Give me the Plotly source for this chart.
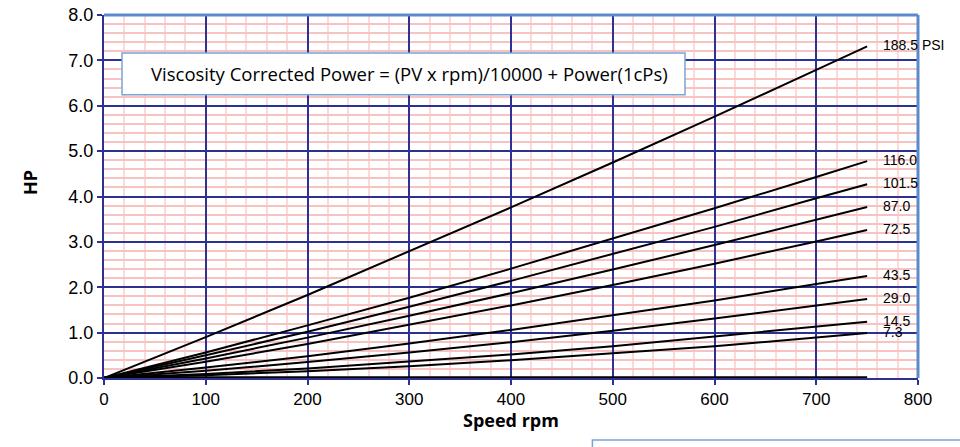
import plotly.graph_objects as go

# rpm points
rpm = [0, 100, 200, 300, 400, 500, 600, 700, 750]

# HP at each rpm, one list per pressure (PSI)
hp_188_5 = [0, 0.90, 1.83, 2.79, 3.76, 4.75, 5.76, 6.79, 7.31]
hp_116_0 = [0, 0.56, 1.16, 1.77, 2.41, 3.07, 3.74, 4.43, 4.78]
hp_101_5 = [0, 0.50, 1.02, 1.57, 2.14, 2.73, 3.33, 3.96, 4.27]
hp_87_0 = [0, 0.43, 0.89, 1.37, 1.87, 2.39, 2.93, 3.48, 3.77]
hp_72_5 = [0, 0.36, 0.75, 1.17, 1.60, 2.05, 2.52, 3.01, 3.26]
hp_43_5 = [0, 0.23, 0.48, 0.76, 1.06, 1.38, 1.71, 2.07, 2.25]
hp_29_0 = [0, 0.16, 0.35, 0.56, 0.79, 1.04, 1.31, 1.59, 1.74]
hp_14_5 = [0, 0.09, 0.21, 0.36, 0.52, 0.70, 0.91, 1.12, 1.24]
hp_7_3 = [0, 0.06, 0.15, 0.26, 0.39, 0.54, 0.70, 0.89, 0.99]
hp_0 = [0, 0, 0, 0, 0, 0, 0, 0, 0]

series = [hp_188_5, hp_116_0, hp_101_5, hp_87_0, hp_72_5,
          hp_43_5, hp_29_0, hp_14_5, hp_7_3]
labels = ["188.5 PSI", "116.0", "101.5", "87.0", "72.5",
          "43.5", "29.0", "14.5", "7.3"]

NAVY = "#2E3192"
LIGHT_BLUE = "#5B8BCB"
PINK_H = "#F9C2C2"
PINK_V = "#FCDADA"

fig = go.Figure()

fig.add_trace(go.Scatter(x=rpm, y=hp_0, mode="lines",
                         line=dict(color="black", width=3.5),
                         showlegend=False, hoverinfo="skip"))

for ys, lab in zip(series, labels):
    fig.add_trace(go.Scatter(x=rpm, y=ys, mode="lines", name=lab,
                             line=dict(color="black", width=2),
                             showlegend=False))
    # label at the end of each curve
    fig.add_annotation(x=rpm[-1], y=ys[-1], text=lab, showarrow=False,
                       xanchor="left", xshift=14, yshift=1,
                       font=dict(size=14, color="black"))

# text box
fig.add_shape(type="rect", x0=17.7, x1=571, y0=6.24, y1=7.16,
              line=dict(color="#7DA3D6", width=1.5), fillcolor="white",
              layer="above")
fig.add_annotation(x=300, y=6.70, showarrow=False,
                   text="Viscosity Corrected Power = (PV x rpm)/10000 + Power(1cPs)",
                   font=dict(size=18.5, color="black", family="Open Sans"))

# axis titles
fig.add_annotation(xref="paper", yref="paper", x=0.5, y=-0.115,
                   xanchor="center", yanchor="middle",
                   text="<b>Speed rpm</b>", showarrow=False,
                   font=dict(size=18, color="black", family="Open Sans"))
fig.add_annotation(xref="paper", yref="paper", x=-0.091, y=0.54,
                   xanchor="center", yanchor="middle",
                   text="<b>HP</b>", showarrow=False, textangle=-90,
                   font=dict(size=18, color="black", family="Open Sans"))

# top and right borders
fig.add_shape(type="line", xref="paper", yref="paper", x0=0, x1=1, y0=1, y1=1,
              line=dict(color=LIGHT_BLUE, width=3), layer="above")
fig.add_shape(type="line", xref="paper", yref="paper", x0=1, x1=1, y0=0, y1=1,
              line=dict(color=LIGHT_BLUE, width=3), layer="above")

# second box cut off at the bottom right
fig.add_shape(type="rect", xref="paper", yref="paper",
              x0=0.6, x1=1.08, y0=-0.171, y1=-0.3,
              line=dict(color="#7DA3D6", width=1.5), fillcolor="white")

fig.update_xaxes(
    range=[0, 800], dtick=100, tickformat="d", automargin=False,
    showline=True, linecolor=NAVY, linewidth=2,
    ticks="outside", ticklen=5, tickcolor=NAVY, tickwidth=2,
    showgrid=True, gridcolor=NAVY, gridwidth=2, zeroline=False,
    minor=dict(dtick=20, showgrid=True, gridcolor=PINK_V, gridwidth=1.5),
    tickfont=dict(size=17, color="black"),
)
fig.update_yaxes(
    range=[0, 8], dtick=1, tickformat=".1f", automargin=False,
    showline=True, linecolor=NAVY, linewidth=2,
    ticks="outside", ticklen=5, tickcolor=NAVY, tickwidth=2,
    showgrid=True, gridcolor=NAVY, gridwidth=2, zeroline=False,
    minor=dict(dtick=0.2, showgrid=True, gridcolor=PINK_H, gridwidth=1.5),
    tickfont=dict(size=18, color="black"),
)

fig.update_layout(
    width=960, height=447,
    margin=dict(l=104, r=42, t=15, b=69),
    paper_bgcolor="white", plot_bgcolor="white",
    font=dict(family="Liberation Sans, Arial", color="black"),
    showlegend=False,
)

# drop the default page margin so the figure sits at the window corner
fig.write_html("out.html", config={"displayModeBar": False},
               post_script="document.body.style.margin='0';")
